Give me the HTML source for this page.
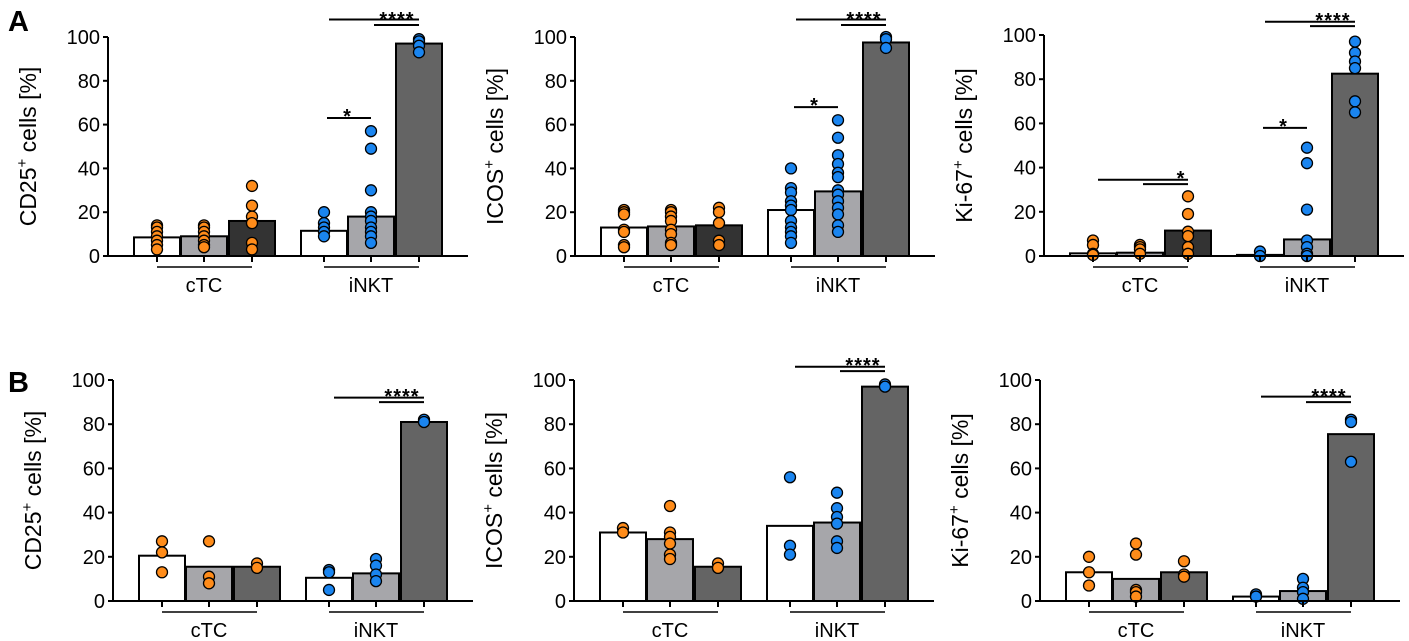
<!DOCTYPE html>
<html><head><meta charset="utf-8"><style>
body{margin:0;background:#fff;}
svg{display:block;font-family:"Liberation Sans",Arial,sans-serif;}
</style></head><body>
<svg id="fig" width="1409" height="641" viewBox="0 0 1409 641" xmlns="http://www.w3.org/2000/svg">
<text x="8" y="31" font-size="29" font-weight="bold">A</text>
<text x="8" y="392" font-size="29" font-weight="bold">B</text>
</svg>
<script>
// ---- data ----
const groups = ["cTC", "iNKT"];
const yTicks = [0, 20, 40, 60, 80, 100];
const titles = ["CD25", "ICOS", "Ki-67", "CD25", "ICOS", "Ki-67"];
const barsP1 = [8.5, 9, 16, 11.5, 18, 97];
const barsP2 = [13, 13.5, 14, 21, 29.5, 97.5];
const barsP3 = [1.2, 1.5, 11.5, 0.5, 7.5, 82.5];
const barsP4 = [20.5, 15.5, 15.5, 10.5, 12.5, 81];
const barsP5 = [31, 28, 15.5, 34, 35.5, 97];
const barsP6 = [13, 10, 13, 2, 4.5, 75.5];
const dotsP1 = [[14,13,11,9,7,5,3],[14,13,11,9,7,5,4],[32,23,18,15,6,3],[20,15,13,11,9],[57,49,30,20,18,16,13,11,9,6],[99,98,96,93]];
const dotsP2 = [[21,20,19,12,11,5,4],[21,20,18,16,12,10,6,5],[22,20,15,7,5],[40,31,29,25,23,21,16,13,11,9,6],[62,54,46,42,38,36,30,28,25,22,19,14,11],[100,99,95]];
const dotsP3 = [[7,5,1,0.5],[5,4,3,1],[27,19,11,9,4,1],[2,0],[49,42,21,7,4,1,0],[97,92,88,85,70,65]];
const dotsP4 = [[27,22,13],[27,11,8],[17,15],[14,13,5],[19,16,12,9],[82,81]];
const dotsP5 = [[33,31],[43,31,29,26,21,19],[17,15],[56,25,21],[49,42,38,35,27,24],[98,97]];
const dotsP6 = [[20,13,7],[26,21,5,4,2],[18,12,11],[3,2],[10,6,4,1],[82,81,63]];
// significance: [fromBar, toBar, level(value), label]
const sigP1 = [[3,5,108,""],[4,5,105.5,"****"],[3,4,63,"*"]];
const sigP2 = [[3,5,108,""],[4,5,105.5,"****"],[3,4,68,"*"]];
const sigP3 = [[0,2,34.5,""],[1,2,32.5,"*r"],[3,5,106,""],[4,5,104,"****"],[3,4,58,"*"]];
const sigP4 = [[3,5,92,""],[4,5,90,"****"]];
const sigP5 = [[3,5,106,""],[4,5,104,"****"]];
const sigP6 = [[3,5,92.5,""],[4,5,90,"****"]];

const panels = [
 {ax:108,y0:256,y100:37,bars:barsP1,dots:dotsP1,sig:sigP1,dark:"#333333"},
 {ax:575,y0:256,y100:37,bars:barsP2,dots:dotsP2,sig:sigP2,dark:"#333333"},
 {ax:1044,y0:256,y100:35,bars:barsP3,dots:dotsP3,sig:sigP3,dark:"#333333"},
 {ax:113,y0:601,y100:380,bars:barsP4,dots:dotsP4,sig:sigP4,dark:"#646464"},
 {ax:574,y0:601,y100:380,bars:barsP5,dots:dotsP5,sig:sigP5,dark:"#646464"},
 {ax:1040,y0:601,y100:380,bars:barsP6,dots:dotsP6,sig:sigP6,dark:"#646464"}
];
const offs = [49,96,144,216,263,311];
const svg = document.getElementById('fig');
const NS = "http://www.w3.org/2000/svg";
function mk(tag, attrs, parent){const e=document.createElementNS(NS,tag);for(const k in attrs)e.setAttribute(k,attrs[k]);(parent||svg).appendChild(e);return e;}

panels.forEach((p,pi)=>{
  const g = mk('g',{});
  
  
  const yS = v => p.y0 + (p.y100 - p.y0)*v/100;
  const X = i => p.ax + offs[i];
  p.bars.forEach((v,i)=>{
    const fill = (i%3===0)?"#ffffff":(i%3===1)?"#a6a6aa":(i<3?p.dark:"#646464");
    const r = mk('rect',{x:X(i)-23,y:yS(v),width:46,height:Math.max(p.y0-yS(v),0.5),fill:fill,stroke:"#000","stroke-width":2},g);
    
    
  });
  p.dots.forEach((arr,i)=>{
    const col = i<3?"#ff8c1a":"#1a85f0";
    arr.forEach(v=>{
      const c = mk('circle',{cx:X(i),cy:yS(v),r:5.5,fill:col,stroke:"#000","stroke-width":1.3},g);
      
      
    });
  });
  const ya = mk('line',{x1:p.ax,y1:p.y0+1,x2:p.ax,y2:p.y100,stroke:"#000","stroke-width":2},g);
  
  
  const xa = mk('line',{x1:p.ax,y1:p.y0,x2:p.ax+360,y2:p.y0,stroke:"#000","stroke-width":2},g);
  
  
  yTicks.forEach(t=>{
    mk('line',{x1:p.ax-5,y1:yS(t),x2:p.ax,y2:yS(t),stroke:"#000","stroke-width":2},g);
    const tl = mk('text',{x:p.ax-8,y:yS(t)+7,"font-size":20,"text-anchor":"end",fill:"#000"},g);
    tl.textContent = t;
    
    
  });
  offs.forEach((o,i)=>mk('line',{x1:X(i),y1:p.y0,x2:X(i),y2:p.y0+6,stroke:"#000","stroke-width":2},g));
  groups.forEach((gn,gi)=>{
    mk('line',{x1:X(gi*3),y1:p.y0+11,x2:X(gi*3+2),y2:p.y0+11,stroke:"#000","stroke-width":1.5},g);
    const gl = mk('text',{x:X(gi*3+1),y:p.y0+36,"font-size":20,"text-anchor":"middle"},g);
    gl.textContent = gn;
    
    
  });
  const cy = (p.y0+p.y100)/2;
  const tt = mk('text',{x:0,y:0,"font-size":23,"text-anchor":"middle",transform:`translate(${p.ax-72},${cy}) rotate(-90)`},g);
  
  
  tt.appendChild(document.createTextNode(titles[pi]));
  const sup = mk('tspan',{dy:-9,"font-size":15},tt); sup.textContent='+';
  const rest = mk('tspan',{dy:9},tt); rest.textContent=' cells [%]';
  p.sig.forEach(s=>{
    const y = yS(s[2]);
    const l = mk('line',{x1:X(s[0])+(s[1]-s[0]===1?3:5),y1:y,x2:X(s[1]),y2:y,stroke:"#000","stroke-width":2},g);
    
    
    if(s[3]){
      let lab = s[3], tx, ty;
      if(lab==="*r"){ lab="*"; tx=X(s[1])-7; ty=y+1; }
      else if(lab==="*"){ tx=(X(s[0])+X(s[1]))/2; ty=y+5; }
      else { tx=(X(s[0])+X(s[1]))/2+2; ty=y+1; }
      const st = mk('text',{x:tx,y:ty,"font-size":20,"font-weight":"bold","text-anchor":"middle","letter-spacing":"1"},g);
      st.textContent = lab;
      
      
    }
  });
});
</script>
</body></html>
